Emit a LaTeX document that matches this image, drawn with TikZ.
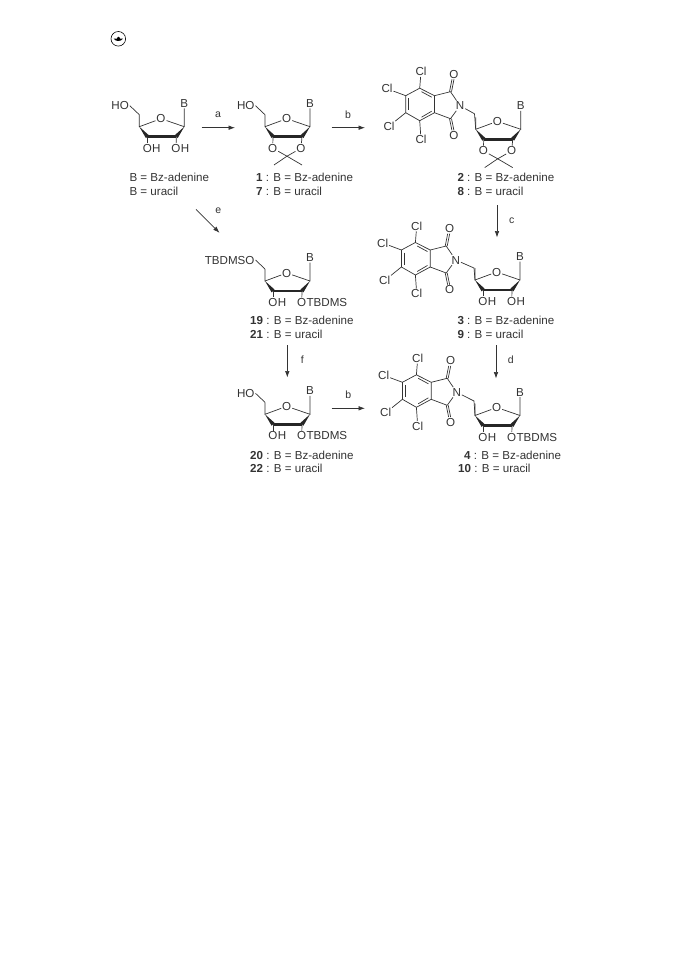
\documentclass[tikz,border=0pt]{standalone}
\usepackage{fontspec}
\setmainfont{Liberation Sans}
\usetikzlibrary{arrows.meta}
\usetikzlibrary{positioning}
\definecolor{inkgray}{gray}{0.2}
\tikzset{
  atom/.style={inner sep=0.8pt,text height=8.2pt,text depth=0pt,text=inkgray,font=\fontsize{11.6}{13}\selectfont},
  capt/.style={inner sep=0pt,anchor=west,text=inkgray,font=\fontsize{11.6}{13}\selectfont},
  steplabel/.style={inner sep=0pt,text=inkgray,font=\fontsize{10.5}{12}\selectfont},
  bond/.style={draw=inkgray,line width=0.7pt},
  boldbond/.style={draw=black!85,line width=2.6pt},
  wedge/.style={fill=black!85},
  reaction/.style={draw=inkgray,line width=0.7pt,-{Latex[length=6.5pt,width=4.6pt]}},
}
% furanose ring, #2 is the left ring carbon
\newcommand{\sugarring}[2]{
  \begin{scope}[shift={(#2)}]
    \node[atom] (#1o) at (21.7,-8) {O};
    \node[atom] (#1b) at (45,-23.5) {B};
    \coordinate (#1cf) at (0,0);
    \coordinate (#1ca) at (45,0);
    \coordinate (#1cd) at (8,10);
    \coordinate (#1cc) at (37,10);
    \coordinate (#1cm) at (0,-12);
    \draw[bond] (#1cm) -- (#1cf) -- (#1o) -- (#1ca) -- (#1b);
    \fill[wedge] (#1cf) -- (9.6,8.6) -- (6.6,11.4) -- cycle;
    \fill[wedge] (#1ca) -- (38.4,11.4) -- (35.4,8.6) -- cycle;
    \draw[boldbond] (#1cd) -- (#1cc);
  \end{scope}
}
% 5' group, #2 ring carbon, #3 text
\newcommand{\fiveprime}[3]{
  \begin{scope}[shift={(#2)}]
    \node[atom,anchor=east] (#1g) at (-9.5,-21) {#3};
    \draw[bond] (#1cm) -- (#1g.east);
  \end{scope}
}
% groups under the ring, #3 and #4 follow the O
\newcommand{\lowergroups}[4]{
  \begin{scope}[shift={(#2)}]
    \node[atom] (#1oa) at (8,21.5) {O};
    \node[atom,right=-1.6pt of #1oa] (#1ra) {#3};
    \node[atom] (#1ob) at (36.7,21.5) {O};
    \node[atom,right=-1.6pt of #1ob] (#1rb) {#4};
    \draw[bond] (#1cd) -- (#1oa);
    \draw[bond] (#1cc) -- (#1ob);
  \end{scope}
}
\newcommand{\acetonide}[2]{
  \begin{scope}[shift={(#2)}]
    \node[atom] (#1oa) at (7.7,21.5) {O};
    \node[atom] (#1ob) at (36,21.5) {O};
    \coordinate (#1cx) at (22,29.5);
    \coordinate (#1me) at (9,38.3);
    \coordinate (#1mf) at (37,38.3);
    \draw[bond] (#1cd) -- (#1oa) -- (#1cx) -- (#1ob) -- (#1cc);
    \draw[bond] (#1me) -- (#1cx) -- (#1mf);
  \end{scope}
}
% tetrachlorophthalimide, #2 is the N, joined to the ring #1
\newcommand{\imide}[2]{
  \begin{scope}[shift={(#2)}]
    \node[atom] (#1n) at (0,0) {N};
    \coordinate (#1a) at (-40.3,-17.5);
    \coordinate (#1f) at (-54.3,-10);
    \coordinate (#1e) at (-54.3,7);
    \coordinate (#1d) at (-40.3,15);
    \coordinate (#1c) at (-25.5,7);
    \coordinate (#1g) at (-25.5,-10);
    \coordinate (#1h) at (-9.5,-14);
    \coordinate (#1i) at (-9.5,13);
    \node[atom] (#1cla) at (-39,-33.8) {Cl};
    \node[atom] (#1clb) at (-73,-17) {Cl};
    \node[atom] (#1clc) at (-71,20.5) {Cl};
    \node[atom] (#1cld) at (-39,33.8) {Cl};
    \node[atom] (#1oc) at (-6,-31.5) {O};
    \node[atom] (#1od) at (-6,29.8) {O};
    \draw[bond] (#1a) -- (#1f) -- (#1e) -- (#1d) -- (#1c) -- (#1g) -- cycle;
    \draw[bond] (#1g) -- (#1h) -- (#1n) -- (#1i) -- (#1c);
    \draw[bond] (#1a) -- (#1cla);
    \draw[bond] (#1f) -- (#1clb);
    \draw[bond] (#1e) -- (#1clc);
    \draw[bond] (#1d) -- (#1cld);
    \draw[bond] (-51.3,-7.5) -- (-51.3,4.5);
    \draw[bond] (-38.5,-14) -- (-28.3,-8.5);
    \draw[bond] (-38.5,11.5) -- (-28.3,5.5);
    \draw[bond,transform canvas={xshift=-1pt}] (#1h) -- (#1oc);
    \draw[bond,transform canvas={xshift=1pt}] (#1h) -- (#1oc);
    \draw[bond,transform canvas={xshift=-1pt}] (#1i) -- (#1od);
    \draw[bond,transform canvas={xshift=1pt}] (#1i) -- (#1od);
  \end{scope}
}
\newcommand{\capline}[3]{\node[capt] (#1) at (#2) {#3};}
\begin{document}
\begin{tikzpicture}[x=1pt,y=-1pt]
  \useasboundingbox (0,0) rectangle (672,960);
  % icon
  \node[circle,draw=black,line width=0.6pt,minimum size=14.6pt,inner sep=0pt] (icon) at (118.3,38.8) {};
  \fill[black] (113.6,38.6) .. controls (115.5,41.8) and (121.1,41.8) .. (123,38.6) -- cycle;
  \fill[black] (116.6,38.6) .. controls (116.6,36.2) and (120,36.2) .. (120,38.6) -- cycle;
  % starting nucleoside
  \sugarring{sa}{139.3,126.7}
  \fiveprime{sa}{139.3,126.7}{HO}
  \lowergroups{sa}{139.3,126.7}{H}{H}
  \capline{cpaa}{129.3,177.5}{B = Bz-adenine}
  \capline{cpab}{129.3,191}{B = uracil}
  % 1 and 7
  \sugarring{sb}{265,126.7}
  \fiveprime{sb}{265,126.7}{HO}
  \acetonide{sb}{265,126.7}
  \capline{cpba}{256,177.5}{\textbf{1} : B = Bz-adenine}
  \capline{cpbb}{256,191}{\textbf{7} : B = uracil}
  % 2 and 8
  \sugarring{sc}{475.7,129.3}
  \acetonide{sc}{475.7,129.3}
  \imide{ic}{460,105.7}
  \draw[bond] (icn) -- (474.5,113.8) -- (sccf);
  \capline{cpca}{457.3,177.5}{\textbf{2} : B = Bz-adenine}
  \capline{cpcb}{457.3,191}{\textbf{8} : B = uracil}
  % 3 and 9
  \sugarring{sd}{475,280}
  \lowergroups{sd}{475,280}{H}{H}
  \imide{id}{455.7,260}
  \draw[bond] (idn) -- (474,268) -- (sdcf);
  \capline{cpda}{457.3,320.5}{\textbf{3} : B = Bz-adenine}
  \capline{cpdb}{457.3,334}{\textbf{9} : B = uracil}
  % 4 and 10
  \sugarring{se}{475,415.5}
  \lowergroups{se}{475,415.5}{H}{TBDMS}
  \imide{ie}{456.7,392.3}
  \draw[bond] (ien) -- (474,401) -- (secf);
  \capline{cpea}{464,455}{\textbf{4} : B = Bz-adenine}
  \capline{cpeb}{458,468.3}{\textbf{10} : B = uracil}
  % 19 and 21
  \sugarring{sf}{265,281}
  \fiveprime{sf}{265,281}{TBDMSO}
  \lowergroups{sf}{265,281}{H}{TBDMS}
  \capline{cpfa}{250,320.5}{\textbf{19} : B = Bz-adenine}
  \capline{cpfb}{250,334.5}{\textbf{21} : B = uracil}
  % 20 and 22
  \sugarring{sg}{265,414.3}
  \fiveprime{sg}{265,414.3}{HO}
  \lowergroups{sg}{265,414.3}{H}{TBDMS}
  \capline{cpga}{250,455}{\textbf{20} : B = Bz-adenine}
  \capline{cpgb}{250,468.5}{\textbf{22} : B = uracil}
  % reaction arrows
  \coordinate (astart) at (201.7,127.7);
  \coordinate (aend) at (235,127.7);
  \coordinate (bstart) at (331.7,127.7);
  \coordinate (bend) at (365,127.7);
  \coordinate (cstart) at (497,205);
  \coordinate (cend) at (497,237.5);
  \coordinate (dstart) at (496,345);
  \coordinate (dend) at (496,378.5);
  \coordinate (estart) at (196,209.3);
  \coordinate (eend) at (219.5,232.8);
  \coordinate (fstart) at (287.3,345);
  \coordinate (fend) at (287.3,377.5);
  \coordinate (gstart) at (331.7,408.3);
  \coordinate (gend) at (365,408.3);
  \draw[reaction] (astart) -- (aend);
  \draw[reaction] (bstart) -- (bend);
  \draw[reaction] (cstart) -- (cend);
  \draw[reaction] (dstart) -- (dend);
  \draw[reaction] (estart) -- (eend);
  \draw[reaction] (fstart) -- (fend);
  \draw[reaction] (gstart) -- (gend);
  \node[steplabel] (laba) at (218,115) {a};
  \node[steplabel] (labb) at (348,114.3) {b};
  \node[steplabel] (labc) at (511.7,221) {c};
  \node[steplabel] (labd) at (510.7,359.3) {d};
  \node[steplabel] (labe) at (218.3,211) {e};
  \node[steplabel] (labf) at (302.3,359.3) {f};
  \node[steplabel] (labg) at (348.3,395) {b};
\end{tikzpicture}
\end{document}
